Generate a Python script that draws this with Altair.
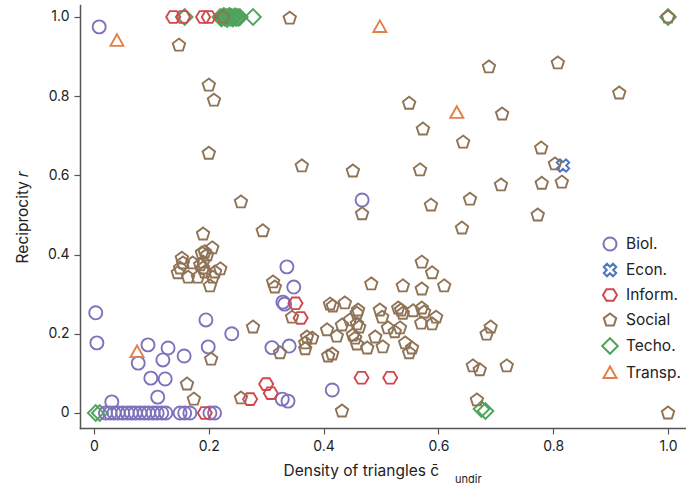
import altair as alt
import pandas as pd

FONT = "Inter"

# ---------------- data ----------------
biol_x = [0.009, 0.003, 0.005,
          0.02, 0.028, 0.035, 0.042, 0.05, 0.058, 0.065, 0.072, 0.08, 0.088, 0.095, 0.103, 0.11, 0.118, 0.125,
          0.15, 0.158, 0.167, 0.202, 0.21,
          0.031, 0.094, 0.129, 0.077, 0.12, 0.157, 0.099, 0.124, 0.111, 0.195, 0.199, 0.24,
          0.336, 0.348, 0.329, 0.332, 0.34, 0.31, 0.415, 0.328, 0.338, 0.467]
biol_y = [0.975, 0.253, 0.177,
          0, 0, 0, 0, 0, 0, 0, 0, 0, 0, 0, 0, 0, 0, 0,
          0, 0, 0, 0, 0,
          0.028, 0.172, 0.164, 0.126, 0.134, 0.144, 0.088, 0.086, 0.04, 0.235, 0.167, 0.2,
          0.369, 0.318, 0.28, 0.275, 0.169, 0.165, 0.058, 0.035, 0.03, 0.538]

econ_x = [0.817]
econ_y = [0.625]

inform_x = [0.138, 0.155, 0.19, 0.2, 0.351, 0.36, 0.466, 0.516, 0.193, 0.272, 0.30, 0.308]
inform_y = [1.0, 1.0, 1.0, 1.0, 0.277, 0.24, 0.089, 0.089, 0.0, 0.035, 0.073, 0.05]

social_x = [0.225, 0.341, 0.148, 0.2, 0.209, 1.0, 1.0,
            0.549, 0.573, 0.688, 0.808, 0.915, 0.711, 0.643, 0.779, 0.803, 0.815, 0.709, 0.78, 0.655, 0.773, 0.641,
            0.691, 0.684, 0.66, 0.672, 0.719, 0.667,
            0.362, 0.451, 0.467, 0.568, 0.587,
            0.571, 0.589, 0.483, 0.538, 0.571, 0.61,
            0.312, 0.315, 0.411, 0.416, 0.437, 0.46, 0.458, 0.498, 0.502, 0.53, 0.535, 0.538,
            0.556, 0.571, 0.575, 0.596, 0.589, 0.57, 0.345,
            0.371, 0.38, 0.368, 0.368, 0.324,
            0.406, 0.423, 0.432, 0.446, 0.458, 0.462, 0.451, 0.455, 0.458, 0.476, 0.49, 0.503,
            0.512, 0.524, 0.533, 0.542, 0.554, 0.549, 0.408, 0.415, 0.432,
            0.19, 0.206, 0.188, 0.193, 0.197, 0.153, 0.155, 0.172, 0.19, 0.185, 0.15, 0.146,
            0.164, 0.181, 0.19, 0.193, 0.211, 0.22, 0.207, 0.202, 0.294, 0.256, 0.2,
            0.277, 0.204, 0.162, 0.174, 0.256]
social_y = [1.0, 0.997, 0.929, 0.828, 0.79, 1.0, 0.0,
            0.782, 0.717, 0.874, 0.884, 0.808, 0.755, 0.684, 0.669, 0.629, 0.583, 0.576, 0.58, 0.54, 0.5, 0.467,
            0.217, 0.199, 0.119, 0.109, 0.119, 0.033,
            0.624, 0.611, 0.503, 0.614, 0.525,
            0.381, 0.354, 0.326, 0.321, 0.313, 0.321,
            0.331, 0.318, 0.275, 0.27, 0.278, 0.26, 0.252, 0.26, 0.242, 0.265, 0.26, 0.252,
            0.258, 0.265, 0.255, 0.242, 0.225, 0.227, 0.242,
            0.192, 0.189, 0.177, 0.162, 0.152,
            0.21, 0.194, 0.222, 0.235, 0.225, 0.217, 0.197, 0.189, 0.174, 0.164, 0.192, 0.167,
            0.215, 0.205, 0.215, 0.177, 0.164, 0.152, 0.144, 0.149, 0.005,
            0.452, 0.417, 0.404, 0.407, 0.399, 0.391, 0.379, 0.379, 0.381, 0.374, 0.366, 0.354,
            0.343, 0.343, 0.366, 0.356, 0.356, 0.364, 0.343, 0.321, 0.46, 0.533, 0.656,
            0.217, 0.136, 0.073, 0.035, 0.038]

techo_x = [0.003, 0.01, 0.158,
           0.22, 0.222, 0.224, 0.226, 0.228, 0.23, 0.232, 0.234, 0.236, 0.238, 0.24, 0.242,
           0.244, 0.246, 0.248, 0.25, 0.252, 0.254,
           0.277, 1.0, 0.675, 0.682]
techo_y = [0.0, 0.0, 1.0,
           1.0, 0.996, 1.0, 1.003, 0.998, 1.0, 0.995, 1.0, 1.003, 0.998, 1.0, 0.996,
           1.0, 1.002, 0.997, 1.0, 0.998, 1.0,
           1.0, 1.0, 0.01, 0.005]

transp_x = [0.04, 0.498, 0.632, 0.075]
transp_y = [0.94, 0.975, 0.758, 0.154]

categories = ["Biol.", "Econ.", "Inform.", "Social", "Techo.", "Transp."]
colors = ["#7f72bd", "#4a77bd", "#d2474c", "#8f7356", "#4fa45c", "#e57f47"]

X_TICKS = [0, 0.2, 0.4, 0.6, 0.8, 1.0]
Y_TICKS = [0, 0.2, 0.4, 0.6, 0.8, 1.0]

# ---------------- build table (Techo drawn first) ----------------
rows = []
for cat, xs, ys in [("Techo.", techo_x, techo_y), ("Biol.", biol_x, biol_y),
                    ("Econ.", econ_x, econ_y), ("Inform.", inform_x, inform_y),
                    ("Social", social_x, social_y), ("Transp.", transp_x, transp_y)]:
    for xv, yv in zip(xs, ys):
        rows.append({"cat": cat, "x": xv, "y": yv})
df = pd.DataFrame(rows)

# marker shapes
XPATH = ("M0.955,-0.46L0.495,0L0.955,0.46L0.46,0.955L0,0.495L-0.46,0.955L-0.955,0.46"
         "L-0.495,0L-0.955,-0.46L-0.46,-0.955L0,-0.495L0.46,-0.955Z")
HEXPATH = "M1.08,0L0.54,0.9L-0.54,0.9L-1.08,0L-0.54,-0.9L0.54,-0.9Z"
PENTPATH = "M0,-1.0L0.951,-0.28L0.588,0.84L-0.588,0.84L-0.951,-0.28Z"
DIAMPATH = "M0,-1.2L1.2,0L0,1.2L-1.2,0Z"
TRIPATH = "M0,-1.0L1.0,0.78L-1.0,0.78Z"
shapes = ["circle", XPATH, HEXPATH, PENTPATH, DIAMPATH, TRIPATH]

legend = alt.Legend(title=None, orient="none", legendX=522, legendY=231,
                    labelFont=FONT, labelFontSize=15.5, labelColor="#222",
                    symbolSize=170, symbolStrokeWidth=2, rowPadding=4,
                    labelOffset=8, padding=0, symbolType="circle")

label_expr = "datum.value == 0 ? '0' : format(datum.value, '.1f')"

points = alt.Chart(df).mark_point(filled=False, size=170, strokeWidth=1.9, opacity=1).encode(
    x=alt.X("x:Q", scale=alt.Scale(domain=[-0.0244, 1.0313], nice=False, zero=False),
            axis=alt.Axis(values=X_TICKS, labelExpr=label_expr, grid=False,
                          title="Density of triangles c\u0304", titleX=203, titleY=47,
                          titleAlign="left", titleBaseline="alphabetic",
                          titleFont=FONT, titleFontSize=15.5, titleFontWeight="normal",
                          titleColor="#222",
                          labelFont=FONT, labelFontSize=14, labelColor="#222", labelPadding=5,
                          domainColor="#555", domainWidth=1.5, tickColor="#555",
                          tickWidth=1.2, tickSize=6)),
    y=alt.Y("y:Q", scale=alt.Scale(domain=[-0.0379, 1.0303], nice=False, zero=False),
            axis=alt.Axis(values=Y_TICKS, labelExpr=label_expr, grid=False,
                          title="Reciprocity \U0001D45F", titlePadding=17,
                          titleFont=FONT, titleFontSize=15.5, titleFontWeight="normal",
                          titleColor="#222",
                          labelFont=FONT, labelFontSize=14, labelColor="#222", labelPadding=5,
                          domainColor="#555", domainWidth=1.5, tickColor="#555",
                          tickWidth=1.2, tickSize=6)),
    color=alt.Color("cat:N", scale=alt.Scale(domain=categories, range=colors), legend=legend),
    shape=alt.Shape("cat:N", scale=alt.Scale(domain=categories, range=shapes), legend=legend),
)

sub = alt.Chart(pd.DataFrame({"t": ["undir"]})).mark_text(
    align="left", baseline="alphabetic", font=FONT, fontSize=11, color="#222"
).encode(x=alt.value(375), y=alt.value(478), text="t:N")

chart = alt.layer(points, sub).properties(
    width=606, height=423,
    autosize=alt.AutoSizeParams(type="none"),
    padding={"left": 80, "top": 5, "right": 0, "bottom": 62},
).configure_view(stroke=None).configure_axis(domainCap="square")

chart.save("out.html", embed_options={"renderer": "svg", "actions": False})
